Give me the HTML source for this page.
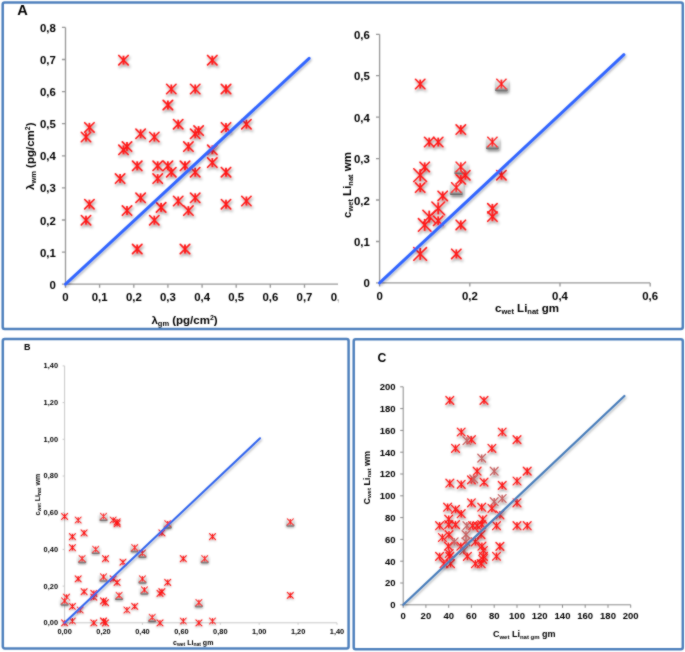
<!DOCTYPE html><html><head><meta charset="utf-8"><style>html,body{margin:0;padding:0;background:#fff;}svg{display:block;will-change:transform;}</style></head><body>
<svg width="685" height="652" viewBox="0 0 685 652">
<defs><filter id="ms" x="-10%" y="-10%" width="120%" height="120%"><feGaussianBlur in="SourceAlpha" stdDeviation="1.5" result="sb"/><feOffset in="sb" dx="0.6" dy="2.2" result="so"/><feFlood flood-color="#000" flood-opacity="0.5"/><feComposite in2="so" operator="in" result="sh"/><feGaussianBlur in="SourceGraphic" stdDeviation="0.3" result="sg"/><feMerge><feMergeNode in="sh"/><feMergeNode in="sg"/></feMerge></filter><filter id="msb" x="-10%" y="-10%" width="120%" height="120%"><feGaussianBlur in="SourceAlpha" stdDeviation="1.0" result="sb"/><feOffset in="sb" dx="0.4" dy="1.4" result="so"/><feFlood flood-color="#000" flood-opacity="0.42"/><feComposite in2="so" operator="in" result="sh"/><feMerge><feMergeNode in="sh"/><feMergeNode in="SourceGraphic"/></feMerge></filter><filter id="ls" x="-10%" y="-10%" width="120%" height="120%"><feDropShadow dx="1" dy="1.5" stdDeviation="1" flood-color="#000" flood-opacity="0.3"/></filter><linearGradient id="gb" x1="0" y1="0" x2="0" y2="1"><stop offset="0" stop-color="#ececec"/><stop offset="0.65" stop-color="#cfcfcf"/><stop offset="1" stop-color="#5a5a5a"/></linearGradient><filter id="gbl" x="0" y="0" width="685" height="652" filterUnits="userSpaceOnUse"><feConvolveMatrix order="3" kernelMatrix="1 2 1 2 16 2 1 2 1" divisor="28" preserveAlpha="false" edgeMode="none"/></filter><clipPath id="cA"><rect x="0" y="0" width="338.3" height="330"/></clipPath></defs>
<g filter="url(#gbl)">
<g fill="none" stroke="#4f81bd" stroke-width="2.5">
<rect x="2.7" y="2.45" width="680.1" height="326.55" rx="2"/>
<rect x="2.8" y="339.1" width="345.8" height="309.4" rx="2"/>
<rect x="353.7" y="339.2" width="329.1" height="310" rx="2"/>
</g>
<g font-family='"Liberation Sans", sans-serif' font-weight="bold" fill="#000">
<text x="17.3" y="15.3" font-size="14.6">A</text>
<text x="24" y="349.8" font-size="9">B</text>
<text x="377.4" y="361.7" font-size="12.2">C</text>
</g>
<path d="M65.5 27.4V284.2H338.0" fill="none" stroke="#989898" stroke-width="1.3"/>
<path d="M61.9 284.2H65.5M61.9 252.1H65.5M61.9 220.0H65.5M61.9 187.9H65.5M61.9 155.8H65.5M61.9 123.7H65.5M61.9 91.6H65.5M61.9 59.5H65.5M61.9 27.4H65.5M65.5 284.2V287.8M99.6 284.2V287.8M133.8 284.2V287.8M167.9 284.2V287.8M202.1 284.2V287.8M236.2 284.2V287.8M270.3 284.2V287.8M304.5 284.2V287.8" stroke="#989898" stroke-width="1.3"/>
<g font-family='"Liberation Sans", sans-serif' font-weight="bold" font-size="11.4" fill="#000">
<text transform="translate(55.8,288.7) scale(1.0,1)" text-anchor="end">0</text>
<text transform="translate(55.8,256.6) scale(1.0,1)" text-anchor="end">0,1</text>
<text transform="translate(55.8,224.5) scale(1.0,1)" text-anchor="end">0,2</text>
<text transform="translate(55.8,192.4) scale(1.0,1)" text-anchor="end">0,3</text>
<text transform="translate(55.8,160.3) scale(1.0,1)" text-anchor="end">0,4</text>
<text transform="translate(55.8,128.2) scale(1.0,1)" text-anchor="end">0,5</text>
<text transform="translate(55.8,96.1) scale(1.0,1)" text-anchor="end">0,6</text>
<text transform="translate(55.8,64.0) scale(1.0,1)" text-anchor="end">0,7</text>
<text transform="translate(55.8,31.9) scale(1.0,1)" text-anchor="end">0,8</text>
<text transform="translate(65.5,300.5) scale(1.0,1)" text-anchor="middle">0</text>
<text transform="translate(99.6,300.5) scale(1.0,1)" text-anchor="middle">0,1</text>
<text transform="translate(133.8,300.5) scale(1.0,1)" text-anchor="middle">0,2</text>
<text transform="translate(167.9,300.5) scale(1.0,1)" text-anchor="middle">0,3</text>
<text transform="translate(202.1,300.5) scale(1.0,1)" text-anchor="middle">0,4</text>
<text transform="translate(236.2,300.5) scale(1.0,1)" text-anchor="middle">0,5</text>
<text transform="translate(270.3,300.5) scale(1.0,1)" text-anchor="middle">0,6</text>
<text transform="translate(304.5,300.5) scale(1.0,1)" text-anchor="middle">0,7</text>
<g clip-path="url(#cA)"><text transform="translate(338.6,300.5) scale(1.0,1)" text-anchor="middle">0,8</text></g>
</g>
<g filter="url(#ms)" fill="none">
<path d="M118.8 55.5L128.2 64.9M128.2 55.5L118.8 64.9" stroke="#ff1a1a" stroke-width="1.7000000000000002" stroke-linecap="round"/><path d="M123.5 55.7L123.5 64.7" stroke="#ff1a1a" stroke-width="1.87"/>
<path d="M207.6 55.5L217.0 64.9M217.0 55.5L207.6 64.9" stroke="#ff1a1a" stroke-width="1.7000000000000002" stroke-linecap="round"/><path d="M212.3 55.7L212.3 64.7" stroke="#ff1a1a" stroke-width="1.87"/>
<path d="M166.6 84.3L176.0 93.7M176.0 84.3L166.6 93.7" stroke="#ff1a1a" stroke-width="1.6" stroke-linecap="round"/><path d="M171.3 84.5L171.3 93.5" stroke="#ff1a1a" stroke-width="1.76"/>
<path d="M190.5 84.3L199.9 93.7M199.9 84.3L190.5 93.7" stroke="#ff1a1a" stroke-width="1.6" stroke-linecap="round"/><path d="M195.2 84.5L195.2 93.5" stroke="#ff1a1a" stroke-width="1.76"/>
<path d="M221.3 84.3L230.7 93.7M230.7 84.3L221.3 93.7" stroke="#ff1a1a" stroke-width="1.7000000000000002" stroke-linecap="round"/><path d="M226.0 84.5L226.0 93.5" stroke="#ff1a1a" stroke-width="1.87"/>
<path d="M163.2 100.3L172.6 109.7M172.6 100.3L163.2 109.7" stroke="#ff1a1a" stroke-width="1.7000000000000002" stroke-linecap="round"/><path d="M167.9 100.5L167.9 109.5" stroke="#ff1a1a" stroke-width="1.87"/>
<path d="M84.7 122.7L94.1 132.1M94.1 122.7L84.7 132.1" stroke="#ff1a1a" stroke-width="1.6" stroke-linecap="round"/><path d="M89.4 122.9L89.4 131.9" stroke="#ff1a1a" stroke-width="1.76"/>
<path d="M81.3 132.3L90.7 141.7M90.7 132.3L81.3 141.7" stroke="#ff1a1a" stroke-width="1.6" stroke-linecap="round"/><path d="M86.0 132.5L86.0 141.5" stroke="#ff1a1a" stroke-width="1.76"/>
<path d="M173.5 119.5L182.9 128.9M182.9 119.5L173.5 128.9" stroke="#ff1a1a" stroke-width="1.6" stroke-linecap="round"/><path d="M178.2 119.7L178.2 128.7" stroke="#ff1a1a" stroke-width="1.76"/>
<path d="M135.9 129.1L145.3 138.5M145.3 129.1L135.9 138.5" stroke="#ff1a1a" stroke-width="1.6" stroke-linecap="round"/><path d="M140.6 129.3L140.6 138.3" stroke="#ff1a1a" stroke-width="1.76"/>
<path d="M149.6 132.3L159.0 141.7M159.0 132.3L149.6 141.7" stroke="#ff1a1a" stroke-width="1.6" stroke-linecap="round"/><path d="M154.3 132.5L154.3 141.5" stroke="#ff1a1a" stroke-width="1.76"/>
<path d="M193.9 125.9L203.3 135.3M203.3 125.9L193.9 135.3" stroke="#ff1a1a" stroke-width="1.6" stroke-linecap="round"/><path d="M198.6 126.1L198.6 135.1" stroke="#ff1a1a" stroke-width="1.76"/>
<path d="M190.5 129.1L199.9 138.5M199.9 129.1L190.5 138.5" stroke="#ff1a1a" stroke-width="1.6" stroke-linecap="round"/><path d="M195.2 129.3L195.2 138.3" stroke="#ff1a1a" stroke-width="1.76"/>
<path d="M221.3 122.7L230.7 132.1M230.7 122.7L221.3 132.1" stroke="#ff1a1a" stroke-width="1.6" stroke-linecap="round"/><path d="M226.0 122.9L226.0 131.9" stroke="#ff1a1a" stroke-width="1.76"/>
<path d="M241.7 119.5L251.1 128.9M251.1 119.5L241.7 128.9" stroke="#ff1a1a" stroke-width="1.6" stroke-linecap="round"/><path d="M246.4 119.7L246.4 128.7" stroke="#ff1a1a" stroke-width="1.76"/>
<path d="M183.7 141.9L193.1 151.3M193.1 141.9L183.7 151.3" stroke="#ff1a1a" stroke-width="1.6" stroke-linecap="round"/><path d="M188.4 142.1L188.4 151.1" stroke="#ff1a1a" stroke-width="1.76"/>
<path d="M122.3 141.9L131.7 151.3M131.7 141.9L122.3 151.3" stroke="#ff1a1a" stroke-width="1.6" stroke-linecap="round"/><path d="M127.0 142.1L127.0 151.1" stroke="#ff1a1a" stroke-width="1.76"/>
<path d="M118.8 145.1L128.2 154.5M128.2 145.1L118.8 154.5" stroke="#ff1a1a" stroke-width="1.7000000000000002" stroke-linecap="round"/><path d="M123.5 145.3L123.5 154.3" stroke="#ff1a1a" stroke-width="1.87"/>
<path d="M207.6 145.1L217.0 154.5M217.0 145.1L207.6 154.5" stroke="#ff1a1a" stroke-width="1.6" stroke-linecap="round"/><path d="M212.3 145.3L212.3 154.3" stroke="#ff1a1a" stroke-width="1.76"/>
<path d="M207.6 157.9L217.0 167.3M217.0 157.9L207.6 167.3" stroke="#ff1a1a" stroke-width="1.6" stroke-linecap="round"/><path d="M212.3 158.1L212.3 167.1" stroke="#ff1a1a" stroke-width="1.76"/>
<path d="M132.5 161.1L141.9 170.5M141.9 161.1L132.5 170.5" stroke="#ff1a1a" stroke-width="1.7000000000000002" stroke-linecap="round"/><path d="M137.2 161.3L137.2 170.3" stroke="#ff1a1a" stroke-width="1.87"/>
<path d="M153.0 161.1L162.4 170.5M162.4 161.1L153.0 170.5" stroke="#ff1a1a" stroke-width="1.6" stroke-linecap="round"/><path d="M157.7 161.3L157.7 170.3" stroke="#ff1a1a" stroke-width="1.76"/>
<path d="M163.2 161.1L172.6 170.5M172.6 161.1L163.2 170.5" stroke="#ff1a1a" stroke-width="1.6" stroke-linecap="round"/><path d="M167.9 161.3L167.9 170.3" stroke="#ff1a1a" stroke-width="1.76"/>
<path d="M180.3 161.1L189.7 170.5M189.7 161.1L180.3 170.5" stroke="#ff1a1a" stroke-width="1.7000000000000002" stroke-linecap="round"/><path d="M185.0 161.3L185.0 170.3" stroke="#ff1a1a" stroke-width="1.87"/>
<path d="M166.6 167.5L176.0 176.9M176.0 167.5L166.6 176.9" stroke="#ff1a1a" stroke-width="1.6" stroke-linecap="round"/><path d="M171.3 167.7L171.3 176.7" stroke="#ff1a1a" stroke-width="1.76"/>
<path d="M190.5 167.5L199.9 176.9M199.9 167.5L190.5 176.9" stroke="#ff1a1a" stroke-width="1.6" stroke-linecap="round"/><path d="M195.2 167.7L195.2 176.7" stroke="#ff1a1a" stroke-width="1.76"/>
<path d="M221.3 167.5L230.7 176.9M230.7 167.5L221.3 176.9" stroke="#ff1a1a" stroke-width="1.7000000000000002" stroke-linecap="round"/><path d="M226.0 167.7L226.0 176.7" stroke="#ff1a1a" stroke-width="1.87"/>
<path d="M115.4 173.9L124.8 183.3M124.8 173.9L115.4 183.3" stroke="#ff1a1a" stroke-width="1.6" stroke-linecap="round"/><path d="M120.1 174.1L120.1 183.1" stroke="#ff1a1a" stroke-width="1.76"/>
<path d="M153.0 173.9L162.4 183.3M162.4 173.9L153.0 183.3" stroke="#ff1a1a" stroke-width="1.6" stroke-linecap="round"/><path d="M157.7 174.1L157.7 183.1" stroke="#ff1a1a" stroke-width="1.76"/>
<path d="M84.7 199.5L94.1 208.9M94.1 199.5L84.7 208.9" stroke="#ff1a1a" stroke-width="1.6" stroke-linecap="round"/><path d="M89.4 199.7L89.4 208.7" stroke="#ff1a1a" stroke-width="1.76"/>
<path d="M81.3 215.5L90.7 224.9M90.7 215.5L81.3 224.9" stroke="#ff1a1a" stroke-width="1.6" stroke-linecap="round"/><path d="M86.0 215.7L86.0 224.7" stroke="#ff1a1a" stroke-width="1.76"/>
<path d="M122.3 205.9L131.7 215.3M131.7 205.9L122.3 215.3" stroke="#ff1a1a" stroke-width="1.6" stroke-linecap="round"/><path d="M127.0 206.1L127.0 215.1" stroke="#ff1a1a" stroke-width="1.76"/>
<path d="M135.9 193.1L145.3 202.5M145.3 193.1L135.9 202.5" stroke="#ff1a1a" stroke-width="1.6" stroke-linecap="round"/><path d="M140.6 193.3L140.6 202.3" stroke="#ff1a1a" stroke-width="1.76"/>
<path d="M149.6 215.5L159.0 224.9M159.0 215.5L149.6 224.9" stroke="#ff1a1a" stroke-width="1.6" stroke-linecap="round"/><path d="M154.3 215.7L154.3 224.7" stroke="#ff1a1a" stroke-width="1.76"/>
<path d="M156.4 202.7L165.8 212.1M165.8 202.7L156.4 212.1" stroke="#ff1a1a" stroke-width="1.7000000000000002" stroke-linecap="round"/><path d="M161.1 202.9L161.1 211.9" stroke="#ff1a1a" stroke-width="1.87"/>
<path d="M173.5 196.3L182.9 205.7M182.9 196.3L173.5 205.7" stroke="#ff1a1a" stroke-width="1.6" stroke-linecap="round"/><path d="M178.2 196.5L178.2 205.5" stroke="#ff1a1a" stroke-width="1.76"/>
<path d="M183.7 205.9L193.1 215.3M193.1 205.9L183.7 215.3" stroke="#ff1a1a" stroke-width="1.6" stroke-linecap="round"/><path d="M188.4 206.1L188.4 215.1" stroke="#ff1a1a" stroke-width="1.76"/>
<path d="M190.5 193.1L199.9 202.5M199.9 193.1L190.5 202.5" stroke="#ff1a1a" stroke-width="1.6" stroke-linecap="round"/><path d="M195.2 193.3L195.2 202.3" stroke="#ff1a1a" stroke-width="1.76"/>
<path d="M221.3 199.5L230.7 208.9M230.7 199.5L221.3 208.9" stroke="#ff1a1a" stroke-width="1.6" stroke-linecap="round"/><path d="M226.0 199.7L226.0 208.7" stroke="#ff1a1a" stroke-width="1.76"/>
<path d="M241.7 196.3L251.1 205.7M251.1 196.3L241.7 205.7" stroke="#ff1a1a" stroke-width="1.6" stroke-linecap="round"/><path d="M246.4 196.5L246.4 205.5" stroke="#ff1a1a" stroke-width="1.76"/>
<path d="M132.5 244.3L141.9 253.7M141.9 244.3L132.5 253.7" stroke="#ff1a1a" stroke-width="1.7000000000000002" stroke-linecap="round"/><path d="M137.2 244.5L137.2 253.5" stroke="#ff1a1a" stroke-width="1.87"/>
<path d="M180.3 244.3L189.7 253.7M189.7 244.3L180.3 253.7" stroke="#ff1a1a" stroke-width="1.7000000000000002" stroke-linecap="round"/><path d="M185.0 244.5L185.0 253.5" stroke="#ff1a1a" stroke-width="1.87"/>
</g>
<line x1="65.5" y1="284.2" x2="309.1" y2="58.3" stroke="#3366ff" stroke-width="3" stroke-linecap="round" filter="url(#ls)"/>
<text x="151.4" y="324" font-family='"Liberation Sans", sans-serif' font-weight="bold" font-size="11.5" fill="#000">&#955;<tspan font-size="7.5" dy="2">gm</tspan><tspan dy="-2"> (pg/cm</tspan><tspan font-size="7" dy="-4">2</tspan><tspan dy="4">)</tspan></text>
<text transform="translate(34.4,190) rotate(-90)" font-family='"Liberation Sans", sans-serif' font-weight="bold" font-size="11.5" fill="#000">&#955;<tspan font-size="7.5" dy="2">wm</tspan><tspan dy="-2"> (pg/cm</tspan><tspan font-size="7" dy="-4">2</tspan><tspan dy="4">)</tspan></text>
<path d="M379.6 34.3V282.9H650.2" fill="none" stroke="#989898" stroke-width="1.3"/>
<path d="M376.0 282.9H379.6M376.0 241.5H379.6M376.0 200.0H379.6M376.0 158.6H379.6M376.0 117.2H379.6M376.0 75.7H379.6M376.0 34.3H379.6M379.6 282.9V286.5M469.8 282.9V286.5M560.0 282.9V286.5M650.2 282.9V286.5" stroke="#989898" stroke-width="1.3"/>
<g font-family='"Liberation Sans", sans-serif' font-weight="bold" font-size="11.4" fill="#000">
<text transform="translate(369.8,287.4) scale(1.0,1)" text-anchor="end">0</text>
<text transform="translate(369.8,246.0) scale(1.0,1)" text-anchor="end">0,1</text>
<text transform="translate(369.8,204.5) scale(1.0,1)" text-anchor="end">0,2</text>
<text transform="translate(369.8,163.1) scale(1.0,1)" text-anchor="end">0,3</text>
<text transform="translate(369.8,121.7) scale(1.0,1)" text-anchor="end">0,4</text>
<text transform="translate(369.8,80.2) scale(1.0,1)" text-anchor="end">0,5</text>
<text transform="translate(369.8,38.8) scale(1.0,1)" text-anchor="end">0,6</text>
<text transform="translate(379.6,300.2) scale(1.0,1)" text-anchor="middle">0</text>
<text transform="translate(469.8,300.2) scale(1.0,1)" text-anchor="middle">0,2</text>
<text transform="translate(560.0,300.2) scale(1.0,1)" text-anchor="middle">0,4</text>
<text transform="translate(650.2,300.2) scale(1.0,1)" text-anchor="middle">0,6</text>
</g>
<g filter="url(#ms)" fill="none">
<path d="M415.5 79.3L424.9 88.7M424.9 79.3L415.5 88.7" stroke="#ff1a1a" stroke-width="1.6" stroke-linecap="round"/><path d="M420.2 79.6L420.2 88.5" stroke="#ff1a1a" stroke-width="1.76"/>
<rect x="494.9" y="80.5" width="13.0" height="10.8" rx="1.2" fill="url(#gb)"/>
<path d="M496.7 79.3L506.1 88.7M506.1 79.3L496.7 88.7" stroke="#ff1a1a" stroke-width="1.6" stroke-linecap="round"/><path d="M501.4 79.6L501.4 88.5" stroke="#ff1a1a" stroke-width="1.76"/>
<path d="M456.1 124.9L465.5 134.3M465.5 124.9L456.1 134.3" stroke="#ff1a1a" stroke-width="1.6" stroke-linecap="round"/><path d="M460.8 125.1L460.8 134.1" stroke="#ff1a1a" stroke-width="1.76"/>
<path d="M424.5 137.3L433.9 146.7M433.9 137.3L424.5 146.7" stroke="#ff1a1a" stroke-width="1.6" stroke-linecap="round"/><path d="M429.2 137.6L429.2 146.5" stroke="#ff1a1a" stroke-width="1.76"/>
<path d="M433.5 137.3L442.9 146.7M442.9 137.3L433.5 146.7" stroke="#ff1a1a" stroke-width="1.6" stroke-linecap="round"/><path d="M438.2 137.6L438.2 146.5" stroke="#ff1a1a" stroke-width="1.76"/>
<rect x="485.9" y="138.5" width="13.0" height="10.8" rx="1.2" fill="url(#gb)"/>
<path d="M487.7 137.3L497.1 146.7M497.1 137.3L487.7 146.7" stroke="#ff1a1a" stroke-width="1.6" stroke-linecap="round"/><path d="M492.4 137.6L492.4 146.5" stroke="#ff1a1a" stroke-width="1.76"/>
<path d="M420.0 162.2L429.4 171.6M429.4 162.2L420.0 171.6" stroke="#ff1a1a" stroke-width="1.6" stroke-linecap="round"/><path d="M424.7 162.4L424.7 171.4" stroke="#ff1a1a" stroke-width="1.76"/>
<path d="M413.8 168.8L426.5 181.5M426.5 168.8L413.8 181.5" stroke="#ff1a1a" stroke-width="1.6" stroke-linecap="round"/><path d="M420.2 169.2L420.2 181.2" stroke="#ff1a1a" stroke-width="1.76"/>
<rect x="454.3" y="163.4" width="13.0" height="10.8" rx="1.2" fill="url(#gb)"/>
<path d="M456.1 162.2L465.5 171.6M465.5 162.2L456.1 171.6" stroke="#ff1a1a" stroke-width="1.6" stroke-linecap="round"/><path d="M460.8 162.4L460.8 171.4" stroke="#ff1a1a" stroke-width="1.76"/>
<path d="M460.6 170.5L470.0 179.9M470.0 170.5L460.6 179.9" stroke="#ff1a1a" stroke-width="1.6" stroke-linecap="round"/><path d="M465.3 170.7L465.3 179.6" stroke="#ff1a1a" stroke-width="1.76"/>
<path d="M496.7 170.5L506.1 179.9M506.1 170.5L496.7 179.9" stroke="#ff1a1a" stroke-width="1.6" stroke-linecap="round"/><path d="M501.4 170.7L501.4 179.6" stroke="#ff1a1a" stroke-width="1.76"/>
<path d="M415.5 182.9L424.9 192.3M424.9 182.9L415.5 192.3" stroke="#ff1a1a" stroke-width="1.6" stroke-linecap="round"/><path d="M420.2 183.1L420.2 192.1" stroke="#ff1a1a" stroke-width="1.76"/>
<path d="M456.1 174.6L465.5 184.0M465.5 174.6L456.1 184.0" stroke="#ff1a1a" stroke-width="1.6" stroke-linecap="round"/><path d="M460.8 174.9L460.8 183.8" stroke="#ff1a1a" stroke-width="1.76"/>
<rect x="449.8" y="184.1" width="13.0" height="10.8" rx="1.2" fill="url(#gb)"/>
<path d="M451.6 182.9L461.0 192.3M461.0 182.9L451.6 192.3" stroke="#ff1a1a" stroke-width="1.6" stroke-linecap="round"/><path d="M456.3 183.1L456.3 192.1" stroke="#ff1a1a" stroke-width="1.76"/>
<path d="M438.0 191.2L447.4 200.6M447.4 191.2L438.0 200.6" stroke="#ff1a1a" stroke-width="1.6" stroke-linecap="round"/><path d="M442.7 191.4L442.7 200.4" stroke="#ff1a1a" stroke-width="1.76"/>
<path d="M431.9 202.0L444.6 214.7M444.6 202.0L431.9 214.7" stroke="#ff1a1a" stroke-width="1.6" stroke-linecap="round"/><path d="M438.2 202.3L438.2 214.4" stroke="#ff1a1a" stroke-width="1.76"/>
<path d="M422.9 210.3L435.6 223.0M435.6 210.3L422.9 223.0" stroke="#ff1a1a" stroke-width="1.6" stroke-linecap="round"/><path d="M429.2 210.6L429.2 222.6" stroke="#ff1a1a" stroke-width="1.76"/>
<path d="M433.5 216.1L442.9 225.5M442.9 216.1L433.5 225.5" stroke="#ff1a1a" stroke-width="1.6" stroke-linecap="round"/><path d="M438.2 216.3L438.2 225.2" stroke="#ff1a1a" stroke-width="1.76"/>
<path d="M418.4 218.6L431.0 231.2M431.0 218.6L418.4 231.2" stroke="#ff1a1a" stroke-width="1.6" stroke-linecap="round"/><path d="M424.7 218.9L424.7 230.9" stroke="#ff1a1a" stroke-width="1.76"/>
<path d="M413.8 247.6L426.5 260.2M426.5 247.6L413.8 260.2" stroke="#ff1a1a" stroke-width="1.6" stroke-linecap="round"/><path d="M420.2 247.9L420.2 259.9" stroke="#ff1a1a" stroke-width="1.76"/>
<path d="M451.6 249.2L461.0 258.6M461.0 249.2L451.6 258.6" stroke="#ff1a1a" stroke-width="1.6" stroke-linecap="round"/><path d="M456.3 249.4L456.3 258.4" stroke="#ff1a1a" stroke-width="1.76"/>
<path d="M456.1 220.2L465.5 229.6M465.5 220.2L456.1 229.6" stroke="#ff1a1a" stroke-width="1.6" stroke-linecap="round"/><path d="M460.8 220.4L460.8 229.4" stroke="#ff1a1a" stroke-width="1.76"/>
<path d="M487.7 203.6L497.1 213.0M497.1 203.6L487.7 213.0" stroke="#ff1a1a" stroke-width="1.6" stroke-linecap="round"/><path d="M492.4 203.9L492.4 212.8" stroke="#ff1a1a" stroke-width="1.76"/>
<path d="M487.7 211.9L497.1 221.3M497.1 211.9L487.7 221.3" stroke="#ff1a1a" stroke-width="1.6" stroke-linecap="round"/><path d="M492.4 212.1L492.4 221.1" stroke="#ff1a1a" stroke-width="1.76"/>
</g>
<line x1="379.6" y1="282.9" x2="623.9" y2="54.7" stroke="#3366ff" stroke-width="3" stroke-linecap="round" filter="url(#ls)"/>
<text x="495" y="312.2" font-family='"Liberation Sans", sans-serif' font-weight="bold" font-size="11.5" fill="#000">c<tspan font-size="7.5" dy="2">wet</tspan><tspan dy="-2"> Li</tspan><tspan font-size="7.5" dy="2">nat</tspan><tspan dy="-2"> gm</tspan></text>
<text transform="translate(351,218) rotate(-90)" font-family='"Liberation Sans", sans-serif' font-weight="bold" font-size="11.5" fill="#000">c<tspan font-size="7.5" dy="2">wet</tspan><tspan dy="-2"> Li</tspan><tspan font-size="7.5" dy="2">nat</tspan><tspan dy="-2"> wm</tspan></text>
<path d="M64.6 365.9V622.8H337.0" fill="none" stroke="#c8c8c8" stroke-width="1"/>
<path d="M62.6 622.8H64.6M62.6 586.1H64.6M62.6 549.4H64.6M62.6 512.7H64.6M62.6 476.0H64.6M62.6 439.3H64.6M62.6 402.6H64.6M62.6 365.9H64.6M64.6 622.8V624.8M103.5 622.8V624.8M142.4 622.8V624.8M181.4 622.8V624.8M220.3 622.8V624.8M259.2 622.8V624.8M298.1 622.8V624.8M337.0 622.8V624.8" stroke="#c8c8c8" stroke-width="1"/>
<g font-family='"Liberation Sans", sans-serif' font-weight="bold" font-size="7.4" fill="#000">
<text transform="translate(58.0,625.2) scale(1,1)" text-anchor="end">0,00</text>
<text transform="translate(58.0,588.5) scale(1,1)" text-anchor="end">0,20</text>
<text transform="translate(58.0,551.8) scale(1,1)" text-anchor="end">0,40</text>
<text transform="translate(58.0,515.1) scale(1,1)" text-anchor="end">0,60</text>
<text transform="translate(58.0,478.4) scale(1,1)" text-anchor="end">0,80</text>
<text transform="translate(58.0,441.7) scale(1,1)" text-anchor="end">1,00</text>
<text transform="translate(58.0,405.0) scale(1,1)" text-anchor="end">1,20</text>
<text transform="translate(58.0,368.3) scale(1,1)" text-anchor="end">1,40</text>
<text transform="translate(64.6,633.5) scale(1,1)" text-anchor="middle">0,00</text>
<text transform="translate(103.5,633.5) scale(1,1)" text-anchor="middle">0,20</text>
<text transform="translate(142.4,633.5) scale(1,1)" text-anchor="middle">0,40</text>
<text transform="translate(181.4,633.5) scale(1,1)" text-anchor="middle">0,60</text>
<text transform="translate(220.3,633.5) scale(1,1)" text-anchor="middle">0,80</text>
<text transform="translate(259.2,633.5) scale(1,1)" text-anchor="middle">1,00</text>
<text transform="translate(298.1,633.5) scale(1,1)" text-anchor="middle">1,20</text>
<text transform="translate(337.0,633.5) scale(1,1)" text-anchor="middle">1,40</text>
</g>
<g filter="url(#msb)" fill="none">
<path d="M61.6 513.4L67.6 519.4M67.6 513.4L61.6 519.4" stroke="#ff1a1a" stroke-width="1.05" stroke-linecap="round"/><path d="M64.6 513.5L64.6 519.2" stroke="#ff1a1a" stroke-width="1.16"/>
<path d="M75.2 517.0L81.2 523.0M81.2 517.0L75.2 523.0" stroke="#ff1a1a" stroke-width="1.05" stroke-linecap="round"/><path d="M78.2 517.2L78.2 522.9" stroke="#ff1a1a" stroke-width="1.16"/>
<rect x="99.4" y="514.1" width="8.3" height="6.9" rx="1.2" fill="url(#gb)"/>
<path d="M100.5 513.4L106.5 519.4M106.5 513.4L100.5 519.4" stroke="#ff1a1a" stroke-width="1.05" stroke-linecap="round"/><path d="M103.5 513.5L103.5 519.2" stroke="#ff1a1a" stroke-width="1.16"/>
<path d="M110.2 517.0L116.2 523.0M116.2 517.0L110.2 523.0" stroke="#ff1a1a" stroke-width="1.05" stroke-linecap="round"/><path d="M113.2 517.2L113.2 522.9" stroke="#ff1a1a" stroke-width="1.16"/>
<path d="M114.1 518.9L120.1 524.9M120.1 518.9L114.1 524.9" stroke="#ff1a1a" stroke-width="1.1500000000000001" stroke-linecap="round"/><path d="M117.1 519.0L117.1 524.7" stroke="#ff1a1a" stroke-width="1.27"/>
<path d="M114.1 520.7L120.1 526.7M120.1 520.7L114.1 526.7" stroke="#ff1a1a" stroke-width="1.05" stroke-linecap="round"/><path d="M117.1 520.9L117.1 526.6" stroke="#ff1a1a" stroke-width="1.16"/>
<path d="M69.4 533.6L75.4 539.6M75.4 533.6L69.4 539.6" stroke="#ff1a1a" stroke-width="1.05" stroke-linecap="round"/><path d="M72.4 533.7L72.4 539.4" stroke="#ff1a1a" stroke-width="1.16"/>
<path d="M81.1 529.9L87.1 535.9M87.1 529.9L81.1 535.9" stroke="#ff1a1a" stroke-width="1.05" stroke-linecap="round"/><path d="M84.1 530.0L84.1 535.7" stroke="#ff1a1a" stroke-width="1.16"/>
<path d="M69.4 544.6L75.4 550.6M75.4 544.6L69.4 550.6" stroke="#ff1a1a" stroke-width="1.05" stroke-linecap="round"/><path d="M72.4 544.7L72.4 550.4" stroke="#ff1a1a" stroke-width="1.16"/>
<rect x="91.6" y="547.1" width="8.3" height="6.9" rx="1.2" fill="url(#gb)"/>
<path d="M92.7 546.4L98.7 552.4M98.7 546.4L92.7 552.4" stroke="#ff1a1a" stroke-width="1.05" stroke-linecap="round"/><path d="M95.7 546.5L95.7 552.2" stroke="#ff1a1a" stroke-width="1.16"/>
<rect x="78.0" y="556.3" width="8.3" height="6.9" rx="1.2" fill="url(#gb)"/>
<path d="M79.1 555.6L85.1 561.6M85.1 555.6L79.1 561.6" stroke="#ff1a1a" stroke-width="1.05" stroke-linecap="round"/><path d="M82.1 555.7L82.1 561.4" stroke="#ff1a1a" stroke-width="1.16"/>
<path d="M102.5 555.6L108.5 561.6M108.5 555.6L102.5 561.6" stroke="#ff1a1a" stroke-width="1.05" stroke-linecap="round"/><path d="M105.5 555.7L105.5 561.4" stroke="#ff1a1a" stroke-width="1.16"/>
<path d="M120.0 559.2L126.0 565.2M126.0 559.2L120.0 565.2" stroke="#ff1a1a" stroke-width="1.05" stroke-linecap="round"/><path d="M123.0 559.4L123.0 565.1" stroke="#ff1a1a" stroke-width="1.16"/>
<rect x="130.5" y="545.3" width="8.3" height="6.9" rx="1.2" fill="url(#gb)"/>
<path d="M131.7 544.6L137.7 550.6M137.7 544.6L131.7 550.6" stroke="#ff1a1a" stroke-width="1.05" stroke-linecap="round"/><path d="M134.7 544.7L134.7 550.4" stroke="#ff1a1a" stroke-width="1.16"/>
<rect x="138.3" y="550.8" width="8.3" height="6.9" rx="1.2" fill="url(#gb)"/>
<path d="M139.4 550.1L145.4 556.1M145.4 550.1L139.4 556.1" stroke="#ff1a1a" stroke-width="1.05" stroke-linecap="round"/><path d="M142.4 550.2L142.4 555.9" stroke="#ff1a1a" stroke-width="1.16"/>
<path d="M75.2 575.8L81.2 581.8M81.2 575.8L75.2 581.8" stroke="#ff1a1a" stroke-width="1.05" stroke-linecap="round"/><path d="M78.2 575.9L78.2 581.6" stroke="#ff1a1a" stroke-width="1.16"/>
<rect x="99.4" y="574.7" width="8.3" height="6.9" rx="1.2" fill="url(#gb)"/>
<path d="M100.5 573.9L106.5 579.9M106.5 573.9L100.5 579.9" stroke="#ff1a1a" stroke-width="1.05" stroke-linecap="round"/><path d="M103.5 574.1L103.5 579.8" stroke="#ff1a1a" stroke-width="1.16"/>
<path d="M110.2 575.8L116.2 581.8M116.2 575.8L110.2 581.8" stroke="#ff1a1a" stroke-width="1.05" stroke-linecap="round"/><path d="M113.2 575.9L113.2 581.6" stroke="#ff1a1a" stroke-width="1.16"/>
<path d="M114.1 579.4L120.1 585.4M120.1 579.4L114.1 585.4" stroke="#ff1a1a" stroke-width="1.05" stroke-linecap="round"/><path d="M117.1 579.6L117.1 585.3" stroke="#ff1a1a" stroke-width="1.16"/>
<rect x="138.3" y="576.5" width="8.3" height="6.9" rx="1.2" fill="url(#gb)"/>
<path d="M139.4 575.8L145.4 581.8M145.4 575.8L139.4 581.8" stroke="#ff1a1a" stroke-width="1.05" stroke-linecap="round"/><path d="M142.4 575.9L142.4 581.6" stroke="#ff1a1a" stroke-width="1.16"/>
<rect x="140.2" y="587.5" width="8.3" height="6.9" rx="1.2" fill="url(#gb)"/>
<path d="M141.4 586.8L147.4 592.8M147.4 586.8L141.4 592.8" stroke="#ff1a1a" stroke-width="1.05" stroke-linecap="round"/><path d="M144.4 586.9L144.4 592.6" stroke="#ff1a1a" stroke-width="1.16"/>
<path d="M81.1 588.6L87.1 594.6M87.1 588.6L81.1 594.6" stroke="#ff1a1a" stroke-width="1.05" stroke-linecap="round"/><path d="M84.1 588.8L84.1 594.5" stroke="#ff1a1a" stroke-width="1.16"/>
<path d="M90.8 590.4L96.8 596.4M96.8 590.4L90.8 596.4" stroke="#ff1a1a" stroke-width="1.05" stroke-linecap="round"/><path d="M93.8 590.6L93.8 596.3" stroke="#ff1a1a" stroke-width="1.16"/>
<path d="M90.8 594.1L96.8 600.1M96.8 594.1L90.8 600.1" stroke="#ff1a1a" stroke-width="1.05" stroke-linecap="round"/><path d="M93.8 594.3L93.8 600.0" stroke="#ff1a1a" stroke-width="1.16"/>
<rect x="114.9" y="593.0" width="8.3" height="6.9" rx="1.2" fill="url(#gb)"/>
<path d="M116.1 592.3L122.1 598.3M122.1 592.3L116.1 598.3" stroke="#ff1a1a" stroke-width="1.05" stroke-linecap="round"/><path d="M119.1 592.4L119.1 598.1" stroke="#ff1a1a" stroke-width="1.16"/>
<path d="M63.5 594.1L69.5 600.1M69.5 594.1L63.5 600.1" stroke="#ff1a1a" stroke-width="1.05" stroke-linecap="round"/><path d="M66.5 594.3L66.5 600.0" stroke="#ff1a1a" stroke-width="1.16"/>
<rect x="60.5" y="598.5" width="8.3" height="6.9" rx="1.2" fill="url(#gb)"/>
<path d="M61.6 597.8L67.6 603.8M67.6 597.8L61.6 603.8" stroke="#ff1a1a" stroke-width="1.05" stroke-linecap="round"/><path d="M64.6 597.9L64.6 603.6" stroke="#ff1a1a" stroke-width="1.16"/>
<path d="M69.4 603.3L75.4 609.3M75.4 603.3L69.4 609.3" stroke="#ff1a1a" stroke-width="1.05" stroke-linecap="round"/><path d="M72.4 603.4L72.4 609.1" stroke="#ff1a1a" stroke-width="1.16"/>
<path d="M77.2 607.0L83.2 613.0M83.2 607.0L77.2 613.0" stroke="#ff1a1a" stroke-width="1.05" stroke-linecap="round"/><path d="M80.2 607.1L80.2 612.8" stroke="#ff1a1a" stroke-width="1.16"/>
<path d="M100.5 597.8L106.5 603.8M106.5 597.8L100.5 603.8" stroke="#ff1a1a" stroke-width="1.1500000000000001" stroke-linecap="round"/><path d="M103.5 597.9L103.5 603.6" stroke="#ff1a1a" stroke-width="1.27"/>
<path d="M102.5 599.6L108.5 605.6M108.5 599.6L102.5 605.6" stroke="#ff1a1a" stroke-width="1.05" stroke-linecap="round"/><path d="M105.5 599.8L105.5 605.5" stroke="#ff1a1a" stroke-width="1.16"/>
<path d="M123.9 607.0L129.9 613.0M129.9 607.0L123.9 613.0" stroke="#ff1a1a" stroke-width="1.05" stroke-linecap="round"/><path d="M126.9 607.1L126.9 612.8" stroke="#ff1a1a" stroke-width="1.16"/>
<path d="M131.7 603.3L137.7 609.3M137.7 603.3L131.7 609.3" stroke="#ff1a1a" stroke-width="1.05" stroke-linecap="round"/><path d="M134.7 603.4L134.7 609.1" stroke="#ff1a1a" stroke-width="1.16"/>
<rect x="148.0" y="615.0" width="8.3" height="6.9" rx="1.2" fill="url(#gb)"/>
<path d="M149.2 614.3L155.2 620.3M155.2 614.3L149.2 620.3" stroke="#ff1a1a" stroke-width="1.05" stroke-linecap="round"/><path d="M152.2 614.4L152.2 620.1" stroke="#ff1a1a" stroke-width="1.16"/>
<path d="M61.6 619.8L67.6 625.8M67.6 619.8L61.6 625.8" stroke="#ff1a1a" stroke-width="1.05" stroke-linecap="round"/><path d="M64.6 619.9L64.6 625.6" stroke="#ff1a1a" stroke-width="1.16"/>
<path d="M69.4 618.0L75.4 624.0M75.4 618.0L69.4 624.0" stroke="#ff1a1a" stroke-width="1.05" stroke-linecap="round"/><path d="M72.4 618.1L72.4 623.8" stroke="#ff1a1a" stroke-width="1.16"/>
<path d="M90.8 619.8L96.8 625.8M96.8 619.8L90.8 625.8" stroke="#ff1a1a" stroke-width="1.05" stroke-linecap="round"/><path d="M93.8 619.9L93.8 625.6" stroke="#ff1a1a" stroke-width="1.16"/>
<path d="M100.5 618.0L106.5 624.0M106.5 618.0L100.5 624.0" stroke="#ff1a1a" stroke-width="1.1500000000000001" stroke-linecap="round"/><path d="M103.5 618.1L103.5 623.8" stroke="#ff1a1a" stroke-width="1.27"/>
<path d="M102.5 619.8L108.5 625.8M108.5 619.8L102.5 625.8" stroke="#ff1a1a" stroke-width="1.1500000000000001" stroke-linecap="round"/><path d="M105.5 619.9L105.5 625.6" stroke="#ff1a1a" stroke-width="1.27"/>
<rect x="163.6" y="521.5" width="8.3" height="6.9" rx="1.2" fill="url(#gb)"/>
<path d="M164.7 520.7L170.7 526.7M170.7 520.7L164.7 526.7" stroke="#ff1a1a" stroke-width="1.05" stroke-linecap="round"/><path d="M167.7 520.9L167.7 526.6" stroke="#ff1a1a" stroke-width="1.16"/>
<path d="M158.9 529.9L164.9 535.9M164.9 529.9L158.9 535.9" stroke="#ff1a1a" stroke-width="1.05" stroke-linecap="round"/><path d="M161.9 530.0L161.9 535.7" stroke="#ff1a1a" stroke-width="1.16"/>
<path d="M209.5 533.6L215.5 539.6M215.5 533.6L209.5 539.6" stroke="#ff1a1a" stroke-width="1.05" stroke-linecap="round"/><path d="M212.5 533.7L212.5 539.4" stroke="#ff1a1a" stroke-width="1.16"/>
<path d="M180.3 555.6L186.3 561.6M186.3 555.6L180.3 561.6" stroke="#ff1a1a" stroke-width="1.05" stroke-linecap="round"/><path d="M183.3 555.7L183.3 561.4" stroke="#ff1a1a" stroke-width="1.16"/>
<rect x="200.6" y="556.3" width="8.3" height="6.9" rx="1.2" fill="url(#gb)"/>
<path d="M201.7 555.6L207.7 561.6M207.7 555.6L201.7 561.6" stroke="#ff1a1a" stroke-width="1.05" stroke-linecap="round"/><path d="M204.7 555.7L204.7 561.4" stroke="#ff1a1a" stroke-width="1.16"/>
<path d="M164.7 579.4L170.7 585.4M170.7 579.4L164.7 585.4" stroke="#ff1a1a" stroke-width="1.05" stroke-linecap="round"/><path d="M167.7 579.6L167.7 585.3" stroke="#ff1a1a" stroke-width="1.16"/>
<path d="M158.9 588.6L164.9 594.6M164.9 588.6L158.9 594.6" stroke="#ff1a1a" stroke-width="1.1500000000000001" stroke-linecap="round"/><path d="M161.9 588.8L161.9 594.5" stroke="#ff1a1a" stroke-width="1.27"/>
<path d="M157.0 590.4L163.0 596.4M163.0 590.4L157.0 596.4" stroke="#ff1a1a" stroke-width="1.05" stroke-linecap="round"/><path d="M160.0 590.6L160.0 596.3" stroke="#ff1a1a" stroke-width="1.16"/>
<rect x="194.7" y="600.4" width="8.3" height="6.9" rx="1.2" fill="url(#gb)"/>
<path d="M195.9 599.6L201.9 605.6M201.9 599.6L195.9 605.6" stroke="#ff1a1a" stroke-width="1.05" stroke-linecap="round"/><path d="M198.9 599.8L198.9 605.5" stroke="#ff1a1a" stroke-width="1.16"/>
<path d="M157.0 619.8L163.0 625.8M163.0 619.8L157.0 625.8" stroke="#ff1a1a" stroke-width="1.05" stroke-linecap="round"/><path d="M160.0 619.9L160.0 625.6" stroke="#ff1a1a" stroke-width="1.16"/>
<path d="M180.3 618.0L186.3 624.0M186.3 618.0L180.3 624.0" stroke="#ff1a1a" stroke-width="1.05" stroke-linecap="round"/><path d="M183.3 618.1L183.3 623.8" stroke="#ff1a1a" stroke-width="1.16"/>
<path d="M195.9 619.8L201.9 625.8M201.9 619.8L195.9 625.8" stroke="#ff1a1a" stroke-width="1.05" stroke-linecap="round"/><path d="M198.9 619.9L198.9 625.6" stroke="#ff1a1a" stroke-width="1.16"/>
<path d="M209.5 618.0L215.5 624.0M215.5 618.0L209.5 624.0" stroke="#ff1a1a" stroke-width="1.05" stroke-linecap="round"/><path d="M212.5 618.1L212.5 623.8" stroke="#ff1a1a" stroke-width="1.16"/>
<rect x="286.2" y="519.6" width="8.3" height="6.9" rx="1.2" fill="url(#gb)"/>
<path d="M287.3 518.9L293.3 524.9M293.3 518.9L287.3 524.9" stroke="#ff1a1a" stroke-width="1.05" stroke-linecap="round"/><path d="M290.3 519.0L290.3 524.7" stroke="#ff1a1a" stroke-width="1.16"/>
<path d="M287.3 592.3L293.3 598.3M293.3 592.3L287.3 598.3" stroke="#ff1a1a" stroke-width="1.05" stroke-linecap="round"/><path d="M290.3 592.4L290.3 598.1" stroke="#ff1a1a" stroke-width="1.16"/>
</g>
<line x1="64.6" y1="622.8" x2="260.0" y2="438.3" stroke="#3366ee" stroke-width="2" stroke-linecap="round" filter="url(#ls)"/>
<text x="173" y="644.8" font-family='"Liberation Sans", sans-serif' font-weight="bold" font-size="7" fill="#000">c<tspan font-size="5" dy="1.3">wet</tspan><tspan dy="-1.3"> Li</tspan><tspan font-size="5" dy="1.3">nat</tspan><tspan dy="-1.3"> gm</tspan></text>
<text transform="translate(39.9,515.4) rotate(-90)" font-family='"Liberation Sans", sans-serif' font-weight="bold" font-size="7" fill="#000">c<tspan font-size="5" dy="1.3">wet</tspan><tspan dy="-1.3"> Li</tspan><tspan font-size="5" dy="1.3">nat</tspan><tspan dy="-1.3"> wm</tspan></text>
<path d="M403.2 386.8V604.8H630.7" fill="none" stroke="#8c8c8c" stroke-width="1"/>
<path d="M400.2 604.8H403.2M400.2 583.0H403.2M400.2 561.2H403.2M400.2 539.4H403.2M400.2 517.6H403.2M400.2 495.8H403.2M400.2 474.0H403.2M400.2 452.2H403.2M400.2 430.4H403.2M400.2 408.6H403.2M400.2 386.8H403.2M403.2 604.8V607.8M425.9 604.8V607.8M448.7 604.8V607.8M471.4 604.8V607.8M494.2 604.8V607.8M517.0 604.8V607.8M539.7 604.8V607.8M562.5 604.8V607.8M585.2 604.8V607.8M608.0 604.8V607.8M630.7 604.8V607.8" stroke="#8c8c8c" stroke-width="1"/>
<g font-family='"Liberation Sans", sans-serif' font-weight="bold" font-size="9.5" fill="#000">
<text transform="translate(395.5,608.2) scale(1,1)" text-anchor="end">0</text>
<text transform="translate(395.5,586.4) scale(1,1)" text-anchor="end">20</text>
<text transform="translate(395.5,564.6) scale(1,1)" text-anchor="end">40</text>
<text transform="translate(395.5,542.8) scale(1,1)" text-anchor="end">60</text>
<text transform="translate(395.5,521.0) scale(1,1)" text-anchor="end">80</text>
<text transform="translate(395.5,499.2) scale(1,1)" text-anchor="end">100</text>
<text transform="translate(395.5,477.4) scale(1,1)" text-anchor="end">120</text>
<text transform="translate(395.5,455.6) scale(1,1)" text-anchor="end">140</text>
<text transform="translate(395.5,433.8) scale(1,1)" text-anchor="end">160</text>
<text transform="translate(395.5,412.0) scale(1,1)" text-anchor="end">180</text>
<text transform="translate(395.5,390.2) scale(1,1)" text-anchor="end">200</text>
<text transform="translate(403.2,619.0) scale(1,1)" text-anchor="middle">0</text>
<text transform="translate(425.9,619.0) scale(1,1)" text-anchor="middle">20</text>
<text transform="translate(448.7,619.0) scale(1,1)" text-anchor="middle">40</text>
<text transform="translate(471.4,619.0) scale(1,1)" text-anchor="middle">60</text>
<text transform="translate(494.2,619.0) scale(1,1)" text-anchor="middle">80</text>
<text transform="translate(517.0,619.0) scale(1,1)" text-anchor="middle">100</text>
<text transform="translate(539.7,619.0) scale(1,1)" text-anchor="middle">120</text>
<text transform="translate(562.5,619.0) scale(1,1)" text-anchor="middle">140</text>
<text transform="translate(585.2,619.0) scale(1,1)" text-anchor="middle">160</text>
<text transform="translate(608.0,619.0) scale(1,1)" text-anchor="middle">180</text>
<text transform="translate(630.7,619.0) scale(1,1)" text-anchor="middle">200</text>
</g>
<g filter="url(#ms)" fill="none">
<path d="M445.9 396.5L453.7 404.3M453.7 396.5L445.9 404.3" stroke="#ff1a1a" stroke-width="1.3" stroke-linecap="round"/><path d="M449.8 396.7L449.8 404.1" stroke="#ff1a1a" stroke-width="1.43"/>
<path d="M480.1 396.5L487.9 404.3M487.9 396.5L480.1 404.3" stroke="#ff1a1a" stroke-width="1.3" stroke-linecap="round"/><path d="M484.0 396.7L484.0 404.1" stroke="#ff1a1a" stroke-width="1.43"/>
<path d="M457.3 428.1L465.1 435.9M465.1 428.1L457.3 435.9" stroke="#ff1a1a" stroke-width="1.3" stroke-linecap="round"/><path d="M461.2 428.3L461.2 435.7" stroke="#ff1a1a" stroke-width="1.43"/>
<path d="M498.3 428.1L506.1 435.9M506.1 428.1L498.3 435.9" stroke="#ff1a1a" stroke-width="1.3" stroke-linecap="round"/><path d="M502.2 428.3L502.2 435.7" stroke="#ff1a1a" stroke-width="1.43"/>
<path d="M467.6 435.7L475.3 443.5M475.3 435.7L467.6 443.5" stroke="#ff1a1a" stroke-width="1.3" stroke-linecap="round"/><path d="M471.4 435.9L471.4 443.3" stroke="#ff1a1a" stroke-width="1.43"/>
<path d="M463.0 436.8L470.8 444.6M470.8 436.8L463.0 444.6" stroke="#c86262" stroke-width="1.3" stroke-linecap="round"/><path d="M466.9 437.0L466.9 444.4" stroke="#c86262" stroke-width="1.43"/>
<path d="M513.1 435.7L520.9 443.5M520.9 435.7L513.1 443.5" stroke="#ff1a1a" stroke-width="1.3" stroke-linecap="round"/><path d="M517.0 435.9L517.0 443.3" stroke="#ff1a1a" stroke-width="1.43"/>
<path d="M451.6 444.4L459.4 452.2M459.4 444.4L451.6 452.2" stroke="#ff1a1a" stroke-width="1.3" stroke-linecap="round"/><path d="M455.5 444.6L455.5 452.0" stroke="#ff1a1a" stroke-width="1.43"/>
<path d="M488.0 444.4L495.8 452.2M495.8 444.4L488.0 452.2" stroke="#ff1a1a" stroke-width="1.3" stroke-linecap="round"/><path d="M491.9 444.6L491.9 452.0" stroke="#ff1a1a" stroke-width="1.43"/>
<path d="M477.8 454.2L485.6 462.0M485.6 454.2L477.8 462.0" stroke="#c86262" stroke-width="1.3" stroke-linecap="round"/><path d="M481.7 454.4L481.7 461.9" stroke="#c86262" stroke-width="1.43"/>
<path d="M473.2 467.3L481.0 475.1M481.0 467.3L473.2 475.1" stroke="#ff1a1a" stroke-width="1.3" stroke-linecap="round"/><path d="M477.1 467.5L477.1 474.9" stroke="#ff1a1a" stroke-width="1.43"/>
<path d="M490.3 467.3L498.1 475.1M498.1 467.3L490.3 475.1" stroke="#c86262" stroke-width="1.3" stroke-linecap="round"/><path d="M494.2 467.5L494.2 474.9" stroke="#c86262" stroke-width="1.43"/>
<path d="M523.3 467.3L531.1 475.1M531.1 467.3L523.3 475.1" stroke="#ff1a1a" stroke-width="1.4000000000000001" stroke-linecap="round"/><path d="M527.2 467.5L527.2 474.9" stroke="#ff1a1a" stroke-width="1.54"/>
<path d="M445.9 479.3L453.7 487.1M453.7 479.3L445.9 487.1" stroke="#ff1a1a" stroke-width="1.3" stroke-linecap="round"/><path d="M449.8 479.5L449.8 486.9" stroke="#ff1a1a" stroke-width="1.43"/>
<path d="M457.3 480.4L465.1 488.2M465.1 480.4L457.3 488.2" stroke="#ff1a1a" stroke-width="1.3" stroke-linecap="round"/><path d="M461.2 480.6L461.2 488.0" stroke="#ff1a1a" stroke-width="1.43"/>
<path d="M467.6 476.0L475.3 483.8M475.3 476.0L467.6 483.8" stroke="#ff1a1a" stroke-width="1.3" stroke-linecap="round"/><path d="M471.4 476.2L471.4 483.7" stroke="#ff1a1a" stroke-width="1.43"/>
<path d="M469.8 475.0L477.6 482.8M477.6 475.0L469.8 482.8" stroke="#c86262" stroke-width="1.3" stroke-linecap="round"/><path d="M473.7 475.2L473.7 482.6" stroke="#c86262" stroke-width="1.43"/>
<path d="M480.1 478.2L487.9 486.0M487.9 478.2L480.1 486.0" stroke="#ff1a1a" stroke-width="1.3" stroke-linecap="round"/><path d="M484.0 478.4L484.0 485.8" stroke="#ff1a1a" stroke-width="1.43"/>
<path d="M498.3 481.5L506.1 489.3M506.1 481.5L498.3 489.3" stroke="#ff1a1a" stroke-width="1.3" stroke-linecap="round"/><path d="M502.2 481.7L502.2 489.1" stroke="#ff1a1a" stroke-width="1.43"/>
<path d="M513.1 477.1L520.9 484.9M520.9 477.1L513.1 484.9" stroke="#ff1a1a" stroke-width="1.3" stroke-linecap="round"/><path d="M517.0 477.3L517.0 484.7" stroke="#ff1a1a" stroke-width="1.43"/>
<path d="M467.6 498.9L475.3 506.7M475.3 498.9L467.6 506.7" stroke="#ff1a1a" stroke-width="1.3" stroke-linecap="round"/><path d="M471.4 499.1L471.4 506.5" stroke="#ff1a1a" stroke-width="1.43"/>
<path d="M498.3 494.6L506.1 502.4M506.1 494.6L498.3 502.4" stroke="#c86262" stroke-width="1.3" stroke-linecap="round"/><path d="M502.2 494.8L502.2 502.2" stroke="#c86262" stroke-width="1.43"/>
<path d="M490.3 497.8L498.1 505.6M498.1 497.8L490.3 505.6" stroke="#c86262" stroke-width="1.3" stroke-linecap="round"/><path d="M494.2 498.0L494.2 505.5" stroke="#c86262" stroke-width="1.43"/>
<path d="M513.1 498.9L520.9 506.7M520.9 498.9L513.1 506.7" stroke="#ff1a1a" stroke-width="1.3" stroke-linecap="round"/><path d="M517.0 499.1L517.0 506.5" stroke="#ff1a1a" stroke-width="1.43"/>
<path d="M443.7 503.3L451.5 511.1M451.5 503.3L443.7 511.1" stroke="#ff1a1a" stroke-width="1.3" stroke-linecap="round"/><path d="M447.6 503.5L447.6 510.9" stroke="#ff1a1a" stroke-width="1.43"/>
<path d="M451.6 505.5L459.4 513.3M459.4 505.5L451.6 513.3" stroke="#ff1a1a" stroke-width="1.3" stroke-linecap="round"/><path d="M455.5 505.7L455.5 513.1" stroke="#ff1a1a" stroke-width="1.43"/>
<path d="M457.3 509.8L465.1 517.6M465.1 509.8L457.3 517.6" stroke="#ff1a1a" stroke-width="1.3" stroke-linecap="round"/><path d="M461.2 510.0L461.2 517.4" stroke="#ff1a1a" stroke-width="1.43"/>
<path d="M477.8 503.3L485.6 511.1M485.6 503.3L477.8 511.1" stroke="#ff1a1a" stroke-width="1.3" stroke-linecap="round"/><path d="M481.7 503.5L481.7 510.9" stroke="#ff1a1a" stroke-width="1.43"/>
<path d="M488.0 504.4L495.8 512.2M495.8 504.4L488.0 512.2" stroke="#ff1a1a" stroke-width="1.3" stroke-linecap="round"/><path d="M491.9 504.6L491.9 512.0" stroke="#ff1a1a" stroke-width="1.43"/>
<path d="M496.0 510.9L503.8 518.7M503.8 510.9L496.0 518.7" stroke="#ff1a1a" stroke-width="1.3" stroke-linecap="round"/><path d="M499.9 511.1L499.9 518.5" stroke="#ff1a1a" stroke-width="1.43"/>
<path d="M444.8 515.3L452.6 523.1M452.6 515.3L444.8 523.1" stroke="#ff1a1a" stroke-width="1.3" stroke-linecap="round"/><path d="M448.7 515.5L448.7 522.9" stroke="#ff1a1a" stroke-width="1.43"/>
<path d="M478.9 515.3L486.7 523.1M486.7 515.3L478.9 523.1" stroke="#ff1a1a" stroke-width="1.3" stroke-linecap="round"/><path d="M482.8 515.5L482.8 522.9" stroke="#ff1a1a" stroke-width="1.43"/>
<path d="M435.7 521.8L443.5 529.6M443.5 521.8L435.7 529.6" stroke="#ff1a1a" stroke-width="1.3" stroke-linecap="round"/><path d="M439.6 522.0L439.6 529.4" stroke="#ff1a1a" stroke-width="1.43"/>
<path d="M444.8 520.7L452.6 528.5M452.6 520.7L444.8 528.5" stroke="#ff1a1a" stroke-width="1.3" stroke-linecap="round"/><path d="M448.7 520.9L448.7 528.3" stroke="#ff1a1a" stroke-width="1.43"/>
<path d="M451.6 520.7L459.4 528.5M459.4 520.7L451.6 528.5" stroke="#ff1a1a" stroke-width="1.3" stroke-linecap="round"/><path d="M455.5 520.9L455.5 528.3" stroke="#ff1a1a" stroke-width="1.43"/>
<path d="M463.0 521.8L470.8 529.6M470.8 521.8L463.0 529.6" stroke="#c86262" stroke-width="1.3" stroke-linecap="round"/><path d="M466.9 522.0L466.9 529.4" stroke="#c86262" stroke-width="1.43"/>
<path d="M468.7 521.8L476.5 529.6M476.5 521.8L468.7 529.6" stroke="#ff1a1a" stroke-width="1.3" stroke-linecap="round"/><path d="M472.6 522.0L472.6 529.4" stroke="#ff1a1a" stroke-width="1.43"/>
<path d="M473.2 521.8L481.0 529.6M481.0 521.8L473.2 529.6" stroke="#ff1a1a" stroke-width="1.3" stroke-linecap="round"/><path d="M477.1 522.0L477.1 529.4" stroke="#ff1a1a" stroke-width="1.43"/>
<path d="M477.8 520.7L485.6 528.5M485.6 520.7L477.8 528.5" stroke="#ff1a1a" stroke-width="1.3" stroke-linecap="round"/><path d="M481.7 520.9L481.7 528.3" stroke="#ff1a1a" stroke-width="1.43"/>
<path d="M492.6 521.8L500.4 529.6M500.4 521.8L492.6 529.6" stroke="#ff1a1a" stroke-width="1.3" stroke-linecap="round"/><path d="M496.5 522.0L496.5 529.4" stroke="#ff1a1a" stroke-width="1.43"/>
<path d="M513.1 521.8L520.9 529.6M520.9 521.8L513.1 529.6" stroke="#ff1a1a" stroke-width="1.3" stroke-linecap="round"/><path d="M517.0 522.0L517.0 529.4" stroke="#ff1a1a" stroke-width="1.43"/>
<path d="M523.3 521.8L531.1 529.6M531.1 521.8L523.3 529.6" stroke="#ff1a1a" stroke-width="1.3" stroke-linecap="round"/><path d="M527.2 522.0L527.2 529.4" stroke="#ff1a1a" stroke-width="1.43"/>
<path d="M445.1 530.7L452.9 538.5M452.9 530.7L445.1 538.5" stroke="#ff1a1a" stroke-width="1.3" stroke-linecap="round"/><path d="M449.0 530.9L449.0 538.3" stroke="#ff1a1a" stroke-width="1.43"/>
<path d="M462.1 530.7L469.9 538.5M469.9 530.7L462.1 538.5" stroke="#c86262" stroke-width="1.3" stroke-linecap="round"/><path d="M466.0 530.9L466.0 538.3" stroke="#c86262" stroke-width="1.43"/>
<path d="M477.1 530.7L484.9 538.5M484.9 530.7L477.1 538.5" stroke="#ff1a1a" stroke-width="1.3" stroke-linecap="round"/><path d="M481.0 530.9L481.0 538.3" stroke="#ff1a1a" stroke-width="1.43"/>
<path d="M438.5 533.6L446.3 541.4M446.3 533.6L438.5 541.4" stroke="#ff1a1a" stroke-width="1.3" stroke-linecap="round"/><path d="M442.4 533.8L442.4 541.2" stroke="#ff1a1a" stroke-width="1.43"/>
<path d="M450.3 537.9L458.1 545.7M458.1 537.9L450.3 545.7" stroke="#c86262" stroke-width="1.3" stroke-linecap="round"/><path d="M454.2 538.0L454.2 545.5" stroke="#c86262" stroke-width="1.43"/>
<path d="M462.1 537.9L469.9 545.7M469.9 537.9L462.1 545.7" stroke="#c86262" stroke-width="1.3" stroke-linecap="round"/><path d="M466.0 538.0L466.0 545.5" stroke="#c86262" stroke-width="1.43"/>
<path d="M471.5 537.9L479.3 545.7M479.3 537.9L471.5 545.7" stroke="#ff1a1a" stroke-width="1.3" stroke-linecap="round"/><path d="M475.4 538.0L475.4 545.5" stroke="#ff1a1a" stroke-width="1.43"/>
<path d="M444.5 542.3L452.3 550.1M452.3 542.3L444.5 550.1" stroke="#ff1a1a" stroke-width="1.3" stroke-linecap="round"/><path d="M448.4 542.5L448.4 549.9" stroke="#ff1a1a" stroke-width="1.43"/>
<path d="M456.9 542.3L464.7 550.1M464.7 542.3L456.9 550.1" stroke="#ff1a1a" stroke-width="1.3" stroke-linecap="round"/><path d="M460.8 542.5L460.8 549.9" stroke="#ff1a1a" stroke-width="1.43"/>
<path d="M478.0 542.3L485.8 550.1M485.8 542.3L478.0 550.1" stroke="#ff1a1a" stroke-width="1.3" stroke-linecap="round"/><path d="M481.9 542.5L481.9 549.9" stroke="#ff1a1a" stroke-width="1.43"/>
<path d="M496.0 542.5L503.8 550.3M503.8 542.5L496.0 550.3" stroke="#ff1a1a" stroke-width="1.4000000000000001" stroke-linecap="round"/><path d="M499.9 542.7L499.9 550.1" stroke="#ff1a1a" stroke-width="1.54"/>
<path d="M459.8 546.6L467.6 554.4M467.6 546.6L459.8 554.4" stroke="#c86262" stroke-width="1.3" stroke-linecap="round"/><path d="M463.7 546.8L463.7 554.2" stroke="#c86262" stroke-width="1.43"/>
<path d="M479.5 546.6L487.3 554.4M487.3 546.6L479.5 554.4" stroke="#ff1a1a" stroke-width="1.3" stroke-linecap="round"/><path d="M483.4 546.8L483.4 554.2" stroke="#ff1a1a" stroke-width="1.43"/>
<path d="M445.3 549.6L453.1 557.4M453.1 549.6L445.3 557.4" stroke="#ff1a1a" stroke-width="1.3" stroke-linecap="round"/><path d="M449.2 549.8L449.2 557.2" stroke="#ff1a1a" stroke-width="1.43"/>
<path d="M435.7 552.5L443.5 560.3M443.5 552.5L435.7 560.3" stroke="#ff1a1a" stroke-width="1.3" stroke-linecap="round"/><path d="M439.6 552.7L439.6 560.1" stroke="#ff1a1a" stroke-width="1.43"/>
<path d="M445.9 552.5L453.7 560.3M453.7 552.5L445.9 560.3" stroke="#ff1a1a" stroke-width="1.3" stroke-linecap="round"/><path d="M449.8 552.7L449.8 560.1" stroke="#ff1a1a" stroke-width="1.43"/>
<path d="M463.5 552.5L471.3 560.3M471.3 552.5L463.5 560.3" stroke="#ff1a1a" stroke-width="1.3" stroke-linecap="round"/><path d="M467.4 552.7L467.4 560.1" stroke="#ff1a1a" stroke-width="1.43"/>
<path d="M479.5 552.5L487.3 560.3M487.3 552.5L479.5 560.3" stroke="#ff1a1a" stroke-width="1.3" stroke-linecap="round"/><path d="M483.4 552.7L483.4 560.1" stroke="#ff1a1a" stroke-width="1.43"/>
<path d="M492.6 552.4L500.4 560.1M500.4 552.4L492.6 560.1" stroke="#ff1a1a" stroke-width="1.3" stroke-linecap="round"/><path d="M496.5 552.5L496.5 560.0" stroke="#ff1a1a" stroke-width="1.43"/>
<path d="M478.8 555.4L486.6 563.2M486.6 555.4L478.8 563.2" stroke="#ff1a1a" stroke-width="1.3" stroke-linecap="round"/><path d="M482.7 555.6L482.7 563.0" stroke="#ff1a1a" stroke-width="1.43"/>
<path d="M440.1 559.8L447.9 567.6M447.9 559.8L440.1 567.6" stroke="#ff1a1a" stroke-width="1.3" stroke-linecap="round"/><path d="M444.0 560.0L444.0 567.4" stroke="#ff1a1a" stroke-width="1.43"/>
<path d="M446.6 559.8L454.4 567.6M454.4 559.8L446.6 567.6" stroke="#ff1a1a" stroke-width="1.3" stroke-linecap="round"/><path d="M450.5 560.0L450.5 567.4" stroke="#ff1a1a" stroke-width="1.43"/>
<path d="M471.5 559.8L479.3 567.6M479.3 559.8L471.5 567.6" stroke="#ff1a1a" stroke-width="1.3" stroke-linecap="round"/><path d="M475.4 560.0L475.4 567.4" stroke="#ff1a1a" stroke-width="1.43"/>
<path d="M477.3 559.8L485.1 567.6M485.1 559.8L477.3 567.6" stroke="#ff1a1a" stroke-width="1.3" stroke-linecap="round"/><path d="M481.2 560.0L481.2 567.4" stroke="#ff1a1a" stroke-width="1.43"/>
</g>
<line x1="403.2" y1="604.8" x2="624.4" y2="396.0" stroke="#4a7ebb" stroke-width="2.2" stroke-linecap="round" filter="url(#ls)"/>
<text x="492.9" y="637.3" font-family='"Liberation Sans", sans-serif' font-weight="bold" font-size="9" fill="#000">C<tspan font-size="6" dy="1.5">wet</tspan><tspan dy="-1.5"> Li</tspan><tspan font-size="6" dy="1.5">nat gm</tspan><tspan dy="-1.5"> gm</tspan></text>
<text transform="translate(369.9,504.6) rotate(-90)" font-family='"Liberation Sans", sans-serif' font-weight="bold" font-size="9" fill="#000">C<tspan font-size="6" dy="1.5">wet</tspan><tspan dy="-1.5"> Li</tspan><tspan font-size="6" dy="1.5">nat</tspan><tspan dy="-1.5"> wm</tspan></text>
</g>
</svg></body></html>
